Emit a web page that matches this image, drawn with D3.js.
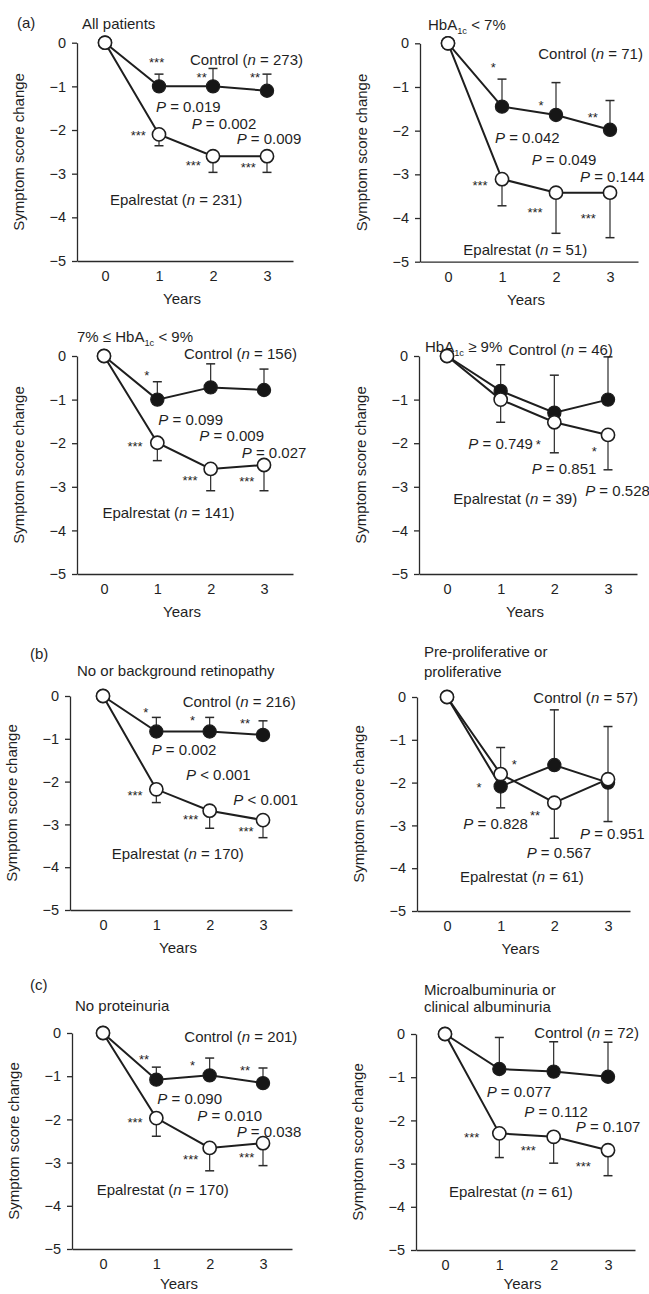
<!DOCTYPE html>
<html><head><meta charset="utf-8">
<script src="https://cdn.jsdelivr.net/npm/d3@7"></script>
<style>
body{margin:0;background:#fff;}
svg text{font-family:"Liberation Sans",Arial,Helvetica,sans-serif;fill:#1f1f1f;}
</style></head><body>
<svg id="chart" width="649" height="1294"></svg>
<script>
// ---------------- DATA ----------------
const years = [0, 1, 2, 3];
const yTicks = [0, -1, -2, -3, -4, -5];
const panelLetters = ["(a)", "", "", "", "(b)", "", "(c)", ""];
const panelTitles = [
  [[["All patients", ""]]],
  [[["HbA", ""], ["1c", "sub"], [" < 7%", ""]]],
  [[["7% \u2264 HbA", ""], ["1c", "sub"], [" < 9%", ""]]],
  [[["HbA", ""], ["1c", "sub"], [" \u2265 9%", ""]]],
  [[["No or background retinopathy", ""]]],
  [[["Pre-proliferative or", ""]], [["proliferative", ""]]],
  [[["No proteinuria", ""]]],
  [[["Microalbuminuria or", ""]], [["clinical albuminuria", ""]]]
];
const controlN = [273, 71, 156, 46, 216, 57, 201, 72];
const epalrestatN = [231, 51, 141, 39, 170, 61, 170, 61];
const controlMean = [
  [0, -1.0, -1.0, -1.1],
  [0, -1.45, -1.64, -1.98],
  [0, -1.0, -0.72, -0.78],
  [0, -0.8, -1.3, -1.0],
  [0, -0.83, -0.83, -0.91],
  [0, -2.09, -1.59, -2.0],
  [0, -1.08, -0.98, -1.16],
  [0, -0.81, -0.87, -0.99]
];
const controlErrTop = [
  [null, -0.72, -0.59, -0.72],
  [null, -0.82, -0.9, -1.31],
  [null, -0.59, -0.18, -0.3],
  [null, -0.2, -0.44, -0.02],
  [null, -0.5, -0.5, -0.58],
  [null, -1.18, -0.3, -0.69],
  [null, -0.79, -0.58, -0.81],
  [null, -0.08, -0.18, -0.19]
];
const epalrestatMean = [
  [0, -2.1, -2.6, -2.6],
  [0, -3.11, -3.42, -3.42],
  [0, -1.99, -2.59, -2.5],
  [0, -1.0, -1.52, -1.81],
  [0, -2.18, -2.68, -2.9],
  [0, -1.8, -2.47, -1.92],
  [0, -1.97, -2.66, -2.55],
  [0, -2.3, -2.38, -2.69]
];
const epalrestatErrBottom = [
  [null, -2.36, -2.97, -2.97],
  [null, -3.72, -4.35, -4.45],
  [null, -2.4, -3.09, -3.09],
  [null, -1.52, -2.22, -2.61],
  [null, -2.49, -3.09, -3.31],
  [null, -2.59, -3.3, -2.91],
  [null, -2.39, -3.19, -3.07],
  [null, -2.86, -2.99, -3.28]
];
const pValues = [
  ["= 0.019", "= 0.002", "= 0.009"],
  ["= 0.042", "= 0.049", "= 0.144"],
  ["= 0.099", "= 0.009", "= 0.027"],
  ["= 0.749", "= 0.851", "= 0.528"],
  ["= 0.002", "< 0.001", "< 0.001"],
  ["= 0.828", "= 0.567", "= 0.951"],
  ["= 0.090", "= 0.010", "= 0.038"],
  ["= 0.077", "= 0.112", "= 0.107"]
];
const controlStars = [
  ["***", "**", "**"], ["*", "*", "**"], ["*", "", ""], ["", "", ""],
  ["*", "*", "**"], ["*", "", ""], ["**", "*", "**"], ["", "", ""]
];
const epalrestatStars = [
  ["***", "***", "***"], ["***", "***", "***"], ["***", "***", "***"], ["", "*", "*"],
  ["***", "***", "***"], ["*", "**", ""], ["***", "***", "***"], ["***", "***", "***"]
];

// ---------------- LAYOUT (pixels / label anchors in data units) ----------------
const frames = [
  {ax: 77, x0: 105, x3: 267, xEnd: 293, y0: 42.7, y5: 261},
  {ax: 420, x0: 448, x3: 610, xEnd: 638, y0: 43.3, y5: 261.7},
  {ax: 77, x0: 104, x3: 264, xEnd: 293, y0: 356, y5: 574},
  {ax: 419, x0: 447, x3: 608, xEnd: 637, y0: 356, y5: 574},
  {ax: 70, x0: 103, x3: 263, xEnd: 292, y0: 696, y5: 910},
  {ax: 417, x0: 447, x3: 608, xEnd: 630, y0: 697, y5: 911},
  {ax: 72, x0: 103, x3: 263, xEnd: 292, y0: 1033, y5: 1249},
  {ax: 416, x0: 445, x3: 608, xEnd: 635, y0: 1034, y5: 1250}
];
const titleLayout = [
  {lx: -60, ly: -20, tx: 5, ty: [-19.4]},
  {tx: 8, ty: [-18.3]},
  {tx: 0, ty: [-19.3]},
  {tx: 6, ty: [-9.3]},
  {lx: -40, ly: -42.7, tx: 7, ty: [-25.3]},
  {tx: 7, ty: [-45.3, -25.3]},
  {lx: -42, ly: -48, tx: 3, ty: [-27.3]},
  {tx: 8, ty: [-44, -27.3]}
];
const annot = [
  {c: [1.574, -0.396], e: [0.093, -3.6], p: [[0.944, -1.465], [1.605, -1.846], [2.438, -2.19]],
   cs: [[0.956, -0.396], [1.79, -0.74], [2.78, -0.74]], es: [[0.617, -2.075], [1.636, -2.76], [2.654, -2.8]]},
  {c: [1.672, -0.229], e: [0.284, -4.716], p: [[0.87, -2.161], [1.55, -2.672], [2.444, -3.054]],
   cs: [[0.84, -0.497], [1.722, -1.374], [2.68, -1.64]], es: [[0.593, -3.205], [1.611, -3.816], [2.598, -3.954]]},
  {c: [1.5, 0.046], e: [-0.03, -3.594], p: [[1.019, -1.468], [1.788, -1.835], [2.583, -2.209]],
   cs: [[0.8, -0.382], null, null], es: [[0.581, -2.018], [1.613, -2.806], [2.676, -2.828]]},
  {c: [1.14, 0.153], e: [0.118, -3.264], p: [[0.397, -2.003], [1.578, -2.576], [2.575, -3.089]],
   cs: [null, null, null], es: [null, [1.7, -1.965], [2.745, -2.14]]},
  {c: [1.494, -0.132], e: [0.163, -3.692], p: [[0.913, -1.262], [1.556, -1.846], [2.444, -2.43]],
   cs: [[0.8, -0.327], [1.681, -0.506], [2.663, -0.584]], es: [[0.6, -2.259], [1.644, -2.82], [2.681, -3.115]]},
  {c: [1.609, -0.008], e: [0.242, -4.198], p: [[0.304, -2.967], [1.484, -3.637], [2.478, -3.185]],
   cs: [[0.596, -2.056], null, null], es: [[1.255, -1.511], [1.64, -2.703], null]},
  {c: [1.525, -0.085], e: [-0.119, -3.634], p: [[1.019, -1.512], [1.769, -1.921], [2.506, -2.284]],
   cs: [[0.769, -0.548], [1.681, -0.702], [2.663, -0.817]], es: [[0.6, -2.014], [1.644, -2.863], [2.694, -2.824]]},
  {c: [1.644, 0.039], e: [0.074, -3.65], p: [[0.767, -1.335], [1.46, -1.798], [2.406, -2.145]],
   cs: [null, null, null], es: [[0.491, -2.338], [1.534, -2.646], [2.546, -3.017]]}
];

// ---------------- DRAW ----------------
const svg = d3.select("#chart");
const INK = "#1e1e1e";
const FS = 15;

function addRich(sel, segs) {
  segs.forEach(([t, style]) => {
    const ts = sel.append("tspan").text(t);
    if (style === "i") ts.attr("font-style", "italic");
    if (style === "sub") ts.attr("font-size", FS * 0.62).attr("baseline-shift", "-4");
  });
}

frames.forEach((f, i) => {
  const g = svg.append("g");
  const x = d3.scaleLinear().domain([0, 3]).range([f.x0, f.x3]);
  const y = d3.scaleLinear().domain([0, -5]).range([f.y0, f.y5]);
  const xa = d3.scaleLinear().domain([x.invert(f.ax), x.invert(f.xEnd)]).range([f.ax, f.xEnd]);

  // axes
  const yAx = g.append("g").attr("transform", `translate(${f.ax},0)`)
    .call(d3.axisLeft(y).tickValues(yTicks).tickSize(5).tickSizeOuter(0).tickPadding(6).tickFormat(d3.format("d")));
  const xAx = g.append("g").attr("transform", `translate(0,${f.y5})`)
    .call(d3.axisBottom(xa).tickValues(years).tickSize(0).tickSizeOuter(0).tickPadding(10).tickFormat(d3.format("d")));
  [yAx, xAx].forEach(a => {
    a.attr("font-family", null).attr("font-size", 14.5);
    a.selectAll("path,line").attr("stroke", "#2a2a2a").attr("stroke-width", 1.3);
    a.selectAll("text").attr("fill", "#1f1f1f");
  });

  // axis titles
  g.append("text").attr("x", (f.ax + f.xEnd) / 2 - 3).attr("y", Math.min(f.y5 + 43, 1289))
    .attr("text-anchor", "middle").attr("font-size", FS).text("Years");
  g.append("text").attr("transform", `translate(${f.ax - 53.5},${(f.y0 + f.y5) / 2}) rotate(-90)`)
    .attr("text-anchor", "middle").attr("font-size", FS).text("Symptom score change");

  // panel letter and title
  const tl = titleLayout[i];
  if (panelLetters[i]) {
    g.append("text").attr("x", f.ax + tl.lx).attr("y", f.y0 + tl.ly).attr("dy", "0.35em")
      .attr("font-size", FS).text(panelLetters[i]);
  }
  panelTitles[i].forEach((line, k) => {
    const t = g.append("text").attr("x", f.ax + tl.tx).attr("y", f.y0 + tl.ty[k]).attr("dy", "0.35em")
      .attr("font-size", FS);
    addRich(t, line);
  });

  const ctrl = years.map((yr, j) => [yr, controlMean[i][j]]);
  const epal = years.map((yr, j) => [yr, epalrestatMean[i][j]]);
  const line = d3.line().x(d => x(d[0])).y(d => y(d[1]));

  g.append("path").datum(ctrl).attr("d", line).attr("fill", "none").attr("stroke", INK).attr("stroke-width", 2);
  g.append("path").datum(epal).attr("d", line).attr("fill", "none").attr("stroke", INK).attr("stroke-width", 2);

  // error bars
  const bars = [];
  years.forEach((yr, j) => {
    if (controlErrTop[i][j] != null) bars.push([yr, controlMean[i][j], controlErrTop[i][j]]);
    if (epalrestatErrBottom[i][j] != null) bars.push([yr, epalrestatMean[i][j], epalrestatErrBottom[i][j]]);
  });
  const eb = g.selectAll(".eb").data(bars).enter().append("g");
  eb.append("line").attr("x1", d => x(d[0])).attr("x2", d => x(d[0]))
    .attr("y1", d => y(d[1])).attr("y2", d => y(d[2])).attr("stroke", "#2a2a2a").attr("stroke-width", 1.2);
  eb.append("line").attr("x1", d => x(d[0]) - 4.5).attr("x2", d => x(d[0]) + 4.5)
    .attr("y1", d => y(d[2])).attr("y2", d => y(d[2])).attr("stroke", "#2a2a2a").attr("stroke-width", 1.5);

  // markers
  g.selectAll(".cm").data(ctrl).enter().append("circle")
    .attr("cx", d => x(d[0])).attr("cy", d => y(d[1])).attr("r", 6.6)
    .attr("fill", "#161616").attr("stroke", INK).attr("stroke-width", 1.2);
  g.selectAll(".em").data(epal).enter().append("circle")
    .attr("cx", d => x(d[0])).attr("cy", d => y(d[1])).attr("r", 6.6)
    .attr("fill", "#fff").attr("stroke", INK).attr("stroke-width", 1.6);

  // labels
  const a = annot[i];
  const cl = g.append("text").attr("x", x(a.c[0])).attr("y", y(a.c[1])).attr("dy", "0.35em").attr("font-size", FS);
  addRich(cl, [["Control (", ""], ["n", "i"], [" = " + controlN[i] + ")", ""]]);
  const el = g.append("text").attr("x", x(a.e[0])).attr("y", y(a.e[1])).attr("dy", "0.35em").attr("font-size", FS);
  addRich(el, [["Epalrestat (", ""], ["n", "i"], [" = " + epalrestatN[i] + ")", ""]]);
  pValues[i].forEach((pv, j) => {
    const t = g.append("text").attr("x", x(a.p[j][0])).attr("y", y(a.p[j][1])).attr("dy", "0.35em").attr("font-size", FS);
    addRich(t, [["P", "i"], [" " + pv, ""]]);
  });
  // significance stars
  const stars = [];
  controlStars[i].forEach((s, j) => { if (s && a.cs[j]) stars.push([a.cs[j], s]); });
  epalrestatStars[i].forEach((s, j) => { if (s && a.es[j]) stars.push([a.es[j], s]); });
  g.selectAll(".st").data(stars).enter().append("text")
    .attr("x", d => x(d[0][0])).attr("y", d => y(d[0][1]) + 7)
    .attr("text-anchor", "middle").attr("font-size", 13).text(d => d[1]);
});
</script>
</body></html>
